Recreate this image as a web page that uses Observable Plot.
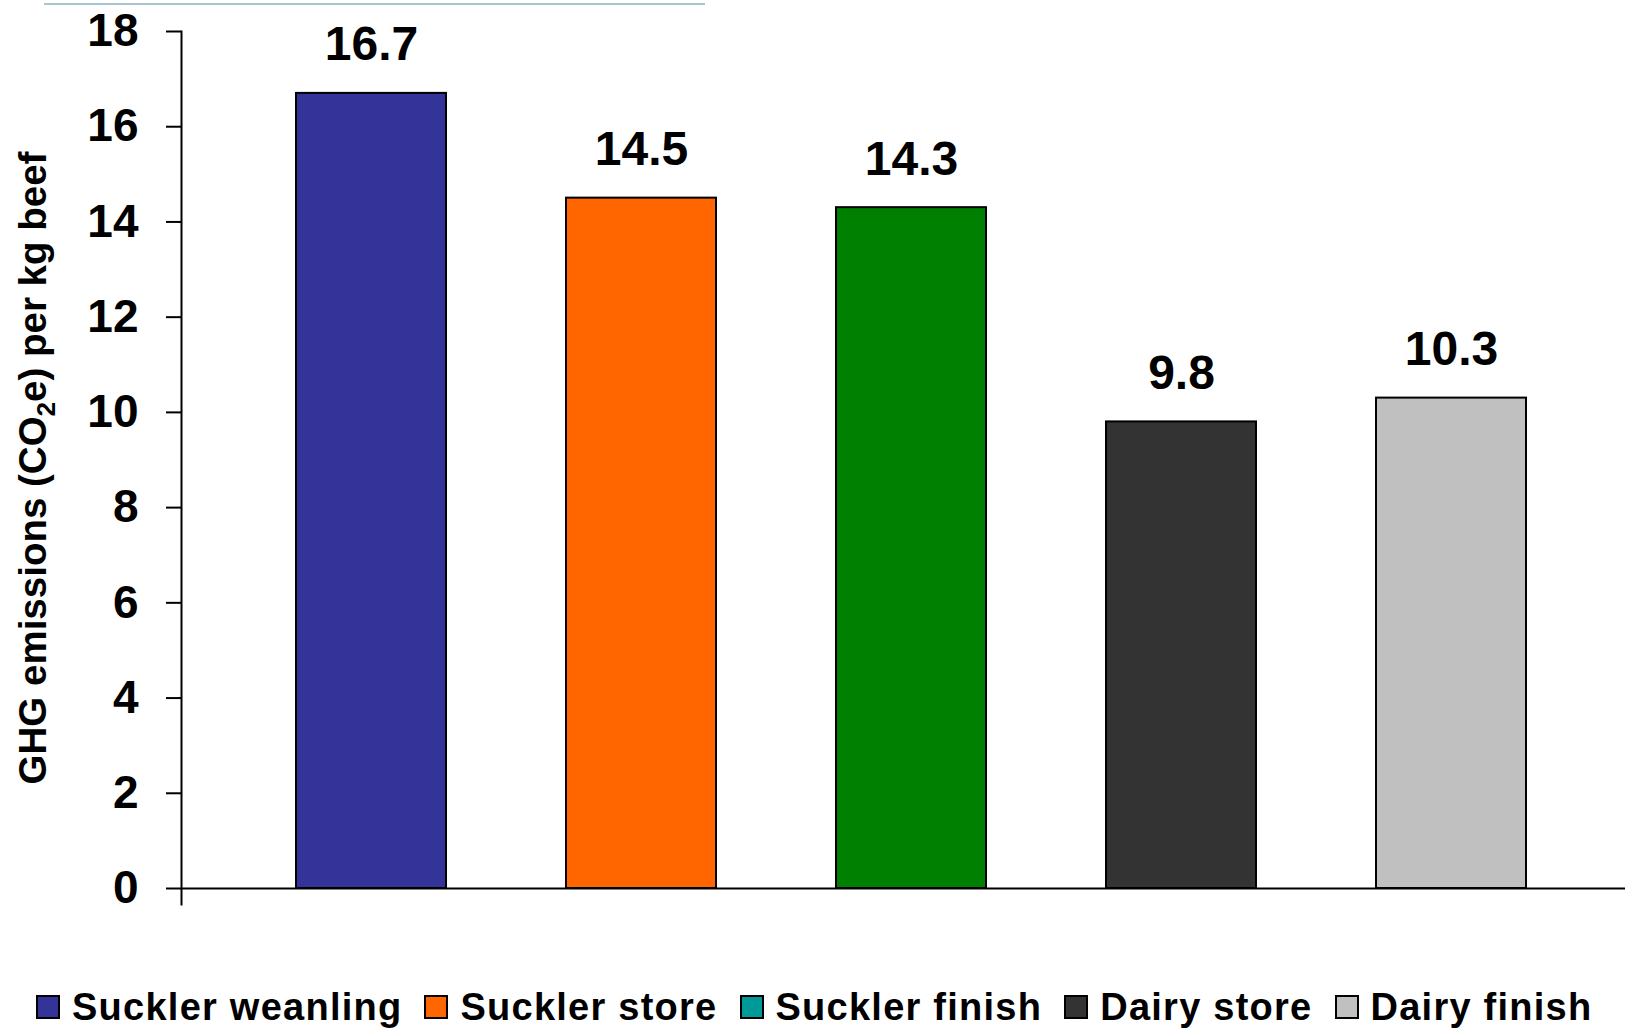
<!DOCTYPE html>
<html><head><meta charset="utf-8">
<script src="https://cdn.jsdelivr.net/npm/d3@7"></script>
<script src="https://cdn.jsdelivr.net/npm/@observablehq/plot@0.6"></script>
<style>
html,body{margin:0;padding:0;background:#fff;width:1625px;height:1028px;overflow:hidden;}
body{position:relative;font-family:"Liberation Sans",Arial,sans-serif;font-weight:bold;}
#deco{position:absolute;left:44px;top:3px;width:661px;height:2px;background:#a8c4d4;}
#chart{position:absolute;left:0;top:0;}
#legend{position:absolute;left:36px;top:986px;height:42px;display:flex;align-items:center;font-size:38px;letter-spacing:1.25px;line-height:42px;color:#000;white-space:nowrap;}
.item{display:flex;align-items:center;margin-right:22px;}
.sw{width:20px;height:20px;border:2px solid #000;margin-right:12px;box-sizing:content-box;}
</style>
</head>
<body>
<div id="chart"></div>
<div id="deco"></div>
<div id="legend"></div>
<script>
const categories = ["Suckler weanling", "Suckler store", "Suckler finish", "Dairy store", "Dairy finish"];
const values = [16.7, 14.5, 14.3, 9.8, 10.3];
const barColors = ["#333399", "#FF6600", "#008000", "#333333", "#C0C0C0"];
const legendColors = ["#333399", "#FF6600", "#009999", "#333333", "#C0C0C0"];
const yTicks = [0, 2, 4, 6, 8, 10, 12, 14, 16, 18];
const yLabel = "GHG emissions (CO2e) per kg beef";

const data = categories.map((c, i) => ({category: c, value: values[i]}));

const plot = Plot.plot({
  width: 1625, height: 960,
  marginTop: 31, marginBottom: 56, marginLeft: 181, marginRight: 0,
  style: {fontFamily: "'Liberation Sans', Arial, sans-serif", fontWeight: "bold", background: "transparent", color: "#000"},
  x: {domain: categories, range: [181, 1640], paddingInner: 0.446, paddingOuter: 0.418, axis: null},
  y: {domain: [0, 18], range: [888, 31], ticks: yTicks},
  color: {domain: categories, range: barColors},
  marks: [
    Plot.axisY({ticks: yTicks, tickSize: 15, tickPadding: 28, fontSize: 46, label: null, strokeWidth: 2, tickFormat: d => String(d)}),
    Plot.frame({anchor: "left", strokeWidth: 2}),
    Plot.barY(data, {x: "category", y: "value", fill: "category", stroke: "#000", strokeWidth: 2}),
    Plot.ruleY([0], {strokeWidth: 2}),
    Plot.text(data, {x: "category", y: "value", text: d => d.value.toFixed(1), lineAnchor: "bottom", dy: -33, fontSize: 48, fontWeight: "bold"}),
    Plot.text([yLabel], {frameAnchor: "left", textAnchor: "middle", rotate: -90, dx: -148, fontSize: 38.5, fontWeight: "bold"})
  ]
});
document.getElementById("chart").appendChild(plot);

// subscript the 2 in CO2
d3.select(plot).selectAll("text").filter(function() { return this.textContent === yLabel; })
  .each(function() {
    const t = d3.select(this);
    t.text(null);
    t.append("tspan").text("GHG emissions (CO");
    t.append("tspan").attr("font-size", 26).attr("dy", 9).text("2");
    t.append("tspan").attr("dy", -9).text("e) per kg beef");
  });

const legend = d3.select("#legend");
categories.forEach((c, i) => {
  const item = legend.append("div").attr("class", "item");
  item.append("div").attr("class", "sw").style("background", legendColors[i]);
  item.append("span").text(c);
});
</script>
</body></html>
